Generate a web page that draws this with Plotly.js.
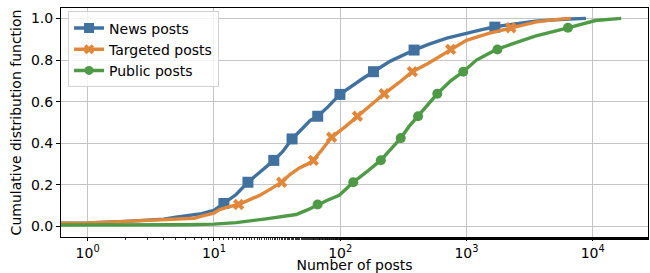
<!DOCTYPE html>
<html>
<head>
<meta charset="utf-8">
<script src="https://cdn.plot.ly/plotly-3.0.1.min.js"></script>
<style>html,body{margin:0;padding:0;background:#fff;}#chart{width:650px;height:273px;}</style>
</head>
<body>
<div id="chart"></div>
<script>
// Series names
var seriesNames = ["News posts", "Targeted posts", "Public posts"];
var xTitle = "Number of posts";
var yTitle = "Cumulative distribution function";

// News posts CDF (x = number of posts, y = cumulative fraction)
var newsX = [0.3, 1, 2, 3, 4, 5, 6, 8, 10, 12, 15, 18.6, 22, 26, 29.8, 35, 41.6, 50, 58, 66.4, 80, 99.6, 120, 150, 183.5, 250, 385, 500, 700, 1000, 1300, 1680, 2500, 3500, 6000, 8840];
var newsY = [0.015, 0.018, 0.025, 0.03, 0.036, 0.045, 0.052, 0.062, 0.078, 0.111, 0.154, 0.213, 0.25, 0.29, 0.318, 0.36, 0.421, 0.47, 0.51, 0.530, 0.575, 0.635, 0.67, 0.71, 0.744, 0.795, 0.848, 0.875, 0.905, 0.93, 0.945, 0.96, 0.975, 0.987, 0.996, 1.0];
var newsMarkX = [12.0, 18.6, 29.8, 41.6, 66.4, 99.6, 183.5, 385, 1680];
var newsMarkY = [0.111, 0.213, 0.318, 0.421, 0.530, 0.635, 0.744, 0.848, 0.958];

// Targeted posts CDF
var targX = [0.3, 1, 2, 4, 7, 8, 10, 11.1, 13, 15.7, 19, 23, 28, 34.4, 40, 47.5, 55, 61.3, 72, 85.6, 110, 137, 175, 223, 290, 373, 500, 750, 1000, 1500, 2300, 3500, 5000, 6700];
var targY = [0.015, 0.017, 0.025, 0.032, 0.04, 0.05, 0.065, 0.082, 0.095, 0.106, 0.13, 0.15, 0.18, 0.213, 0.25, 0.282, 0.30, 0.318, 0.37, 0.429, 0.48, 0.530, 0.585, 0.638, 0.69, 0.744, 0.785, 0.851, 0.895, 0.928, 0.955, 0.982, 0.994, 1.0];
var targMarkX = [15.7, 34.4, 61.3, 85.6, 137, 223, 373, 750, 2250];
var targMarkY = [0.106, 0.213, 0.318, 0.429, 0.530, 0.638, 0.744, 0.851, 0.955];

// Public posts CDF
var pubX = [0.3, 1, 3, 6, 10, 15, 25.9, 35, 44.8, 55, 66.3, 80, 98.4, 127, 160, 210, 250, 302, 350, 414, 500, 588, 750, 944, 1200, 1733, 2500, 3500, 6370, 9000, 10500, 16800];
var pubY = [0.007, 0.007, 0.008, 0.009, 0.012, 0.019, 0.037, 0.048, 0.058, 0.08, 0.106, 0.128, 0.15, 0.213, 0.26, 0.319, 0.37, 0.425, 0.48, 0.530, 0.59, 0.638, 0.70, 0.744, 0.80, 0.851, 0.885, 0.915, 0.955, 0.98, 0.99, 1.0];
var pubMarkX = [66.3, 127, 210, 302, 414, 588, 944, 1760, 6370];
var pubMarkY = [0.106, 0.213, 0.319, 0.425, 0.530, 0.638, 0.744, 0.851, 0.955];

// Axis ticks
var xTickVals = [1, 10, 100, 1000, 10000];
var xTickText = ["10<sup>0</sup>", "10<sup>1</sup>", "10<sup>2</sup>", "10<sup>3</sup>", "10<sup>4</sup>"];
var yTickVals = [0, 0.2, 0.4, 0.6, 0.8, 1.0];
var yTickText = ["0.0", "0.2", "0.4", "0.6", "0.8", "1.0"];

var colors = ["#41729f", "#e0873a", "#4f9a46"];
var symbols = ["square", "x", "circle"];
var msizes = [11, 10, 10];

var lineData = [[newsX, newsY], [targX, targY], [pubX, pubY]];
var markData = [[newsMarkX, newsMarkY], [targMarkX, targMarkY], [pubMarkX, pubMarkY]];

var traces = [];
for (var i = 0; i < 3; i++) {
  traces.push({
    x: lineData[i][0], y: lineData[i][1], type: "scatter", mode: "lines",
    line: {color: colors[i], width: 3.4, shape: "linear"},
    showlegend: false, legendgroup: "g" + i, hoverinfo: "skip"
  });
  traces.push({
    x: markData[i][0], y: markData[i][1], type: "scatter", mode: "markers",
    marker: {color: colors[i], symbol: symbols[i], size: msizes[i], line: {width: 0}},
    showlegend: false, legendgroup: "g" + i, cliponaxis: true
  });
}
for (var j = 0; j < 3; j++) {
  traces.push({
    x: [null], y: [null], type: "scatter", mode: "lines+markers", name: seriesNames[j],
    line: {color: colors[j], width: 3.4},
    marker: {color: colors[j], symbol: symbols[j], size: msizes[j] - 1, line: {width: 0}},
    legendgroup: "g" + j
  });
}

var font = {family: "DejaVu Sans, sans-serif", size: 14, color: "#000"};

var layout = {
  width: 650, height: 273,
  margin: {l: 61, r: 2, t: 8, b: 36, pad: 0},
  paper_bgcolor: "#fff", plot_bgcolor: "#fff",
  font: font,
  showlegend: true,
  legend: {
    x: 0.012, y: 0.985, xanchor: "left", yanchor: "top",
    bgcolor: "rgba(255,255,255,0.8)", bordercolor: "#d0d0d0", borderwidth: 1,
    font: {family: "DejaVu Sans, sans-serif", size: 14, color: "#000"},
    tracegroupgap: 0, itemwidth: 30
  },
  xaxis: {
    type: "log", range: [-0.211, 4.438],
    tickvals: xTickVals, ticktext: xTickText,
    ticks: "outside", ticklen: 3, tickwidth: 1, tickcolor: "#000",
    showline: true, linecolor: "#000", linewidth: 1, mirror: true,
    showgrid: true, gridcolor: "#c4c4c4", gridwidth: 1,
    zeroline: false,
    minor: {ticks: "outside", ticklen: 2, tickwidth: 0.8, tickcolor: "#000", showgrid: false},
    title: {text: xTitle, font: font},
    tickfont: font
  },
  yaxis: {
    range: [-0.05, 1.05],
    tickvals: yTickVals, ticktext: yTickText,
    ticks: "outside", ticklen: 4, tickwidth: 1, tickcolor: "#000",
    showline: true, linecolor: "#000", linewidth: 1, mirror: true,
    showgrid: true, gridcolor: "#c4c4c4", gridwidth: 1,
    zeroline: false,
    title: {text: yTitle, font: font, standoff: 6},
    tickfont: font
  }
};

Plotly.newPlot("chart", traces, layout, {displayModeBar: false, staticPlot: true});
</script>
</body>
</html>
